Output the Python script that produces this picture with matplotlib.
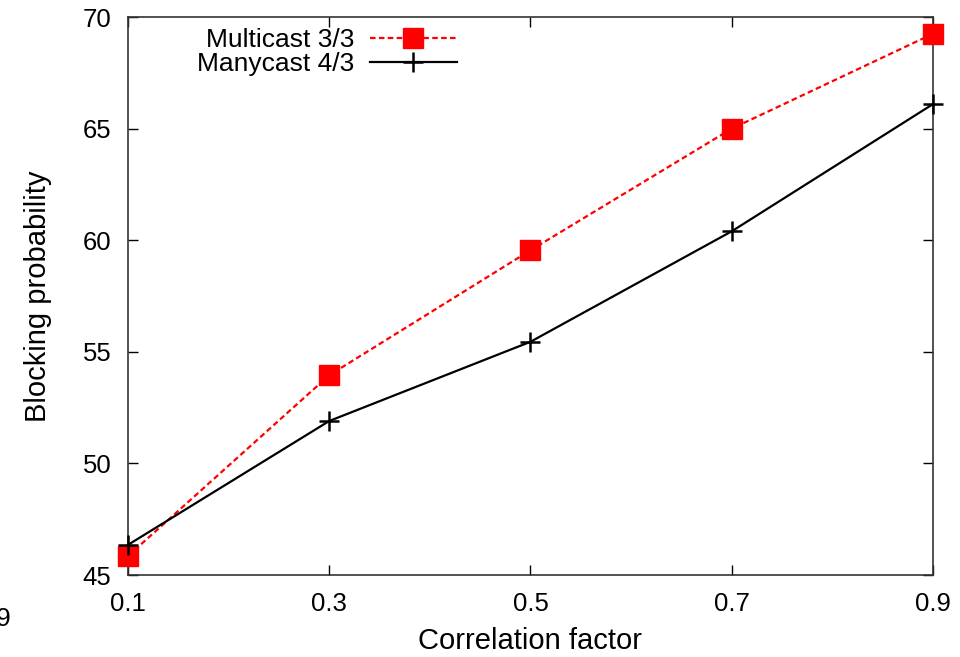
import matplotlib
matplotlib.use('Agg')
import matplotlib.pyplot as plt

plt.rcParams['font.family'] = ['Liberation Sans', 'DejaVu Sans']

# data
corr = [0.1, 0.3, 0.5, 0.7, 0.9]
multicast = [45.85, 53.95, 59.55, 65.0, 69.25]
manycast = [46.35, 51.9, 55.45, 60.4, 66.1]
xticks = [0.1, 0.3, 0.5, 0.7, 0.9]
yticks = [45, 50, 55, 60, 65, 70]

fig = plt.figure(figsize=(9.6, 6.57), dpi=100)
ax = fig.add_axes([0.1333, 0.1248, 0.8386, 0.8493])

ax.plot(corr, multicast, color='red', linestyle=(0, (2.5, 1.5)), linewidth=1.6,
        marker='s', markersize=15, markeredgecolor='red', label='Multicast 3/3',
        clip_on=False, zorder=3)
ax.plot(corr, manycast, color='black', linewidth=1.6,
        marker='+', markersize=15, markeredgewidth=1.8, label='Manycast 4/3',
        clip_on=False, zorder=4)

ax.set_xlim(0.1, 0.9)
ax.set_ylim(45, 70)
ax.set_xticks(xticks)
ax.set_xticklabels([str(t) for t in xticks])
ax.set_yticks(yticks)
ax.tick_params(direction='in', length=7, width=1, top=True, right=True,
               labelsize=18.5, pad=12)
for s in ax.spines.values():
    s.set_linewidth(1.2)
    s.set_color('#333333')

ax.set_xlabel('Correlation factor', fontsize=21, labelpad=8)
ax.set_ylabel('Blocking probability', fontsize=21, labelpad=22)

# text right-aligned, handle on the right (gnuplot style key)
leg = ax.legend(loc='upper right', bbox_to_anchor=(457 / 960, 629 / 657),
                bbox_transform=fig.transFigure, frameon=False,
                markerfirst=False, fontsize=19, handlelength=3.3,
                handletextpad=0.6, labelspacing=0.0, borderaxespad=0,
                borderpad=0)

# stray clipped label from neighbouring figure
fig.text(-0.004, 0.04, '9', fontsize=19, ha='left', va='bottom')

fig.savefig('out.png', dpi=100)
